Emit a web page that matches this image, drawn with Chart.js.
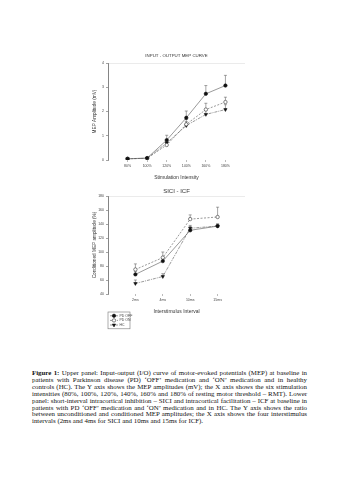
<!DOCTYPE html>
<html>
<head>
<meta charset="utf-8">
<script src="https://cdn.jsdelivr.net/npm/chart.js@4.4.3/dist/chart.umd.min.js"></script>
<style>
  html, body { margin: 0; padding: 0; background: #fff; width: 339px; height: 480px; overflow: hidden; }
  #io-chart { position: absolute; left: 0; top: 0; width: 339px; height: 195px; }
  #sici-chart { position: absolute; left: 0; top: 180px; width: 339px; height: 160px; }
  .caption {
    position: absolute; left: 32px; top: 370px; width: 275px;
    font-family: "Liberation Serif", "Times New Roman", serif;
    font-size: 10px; line-height: 6.9px; color: #111;
  }
  .caption div { text-align: justify; text-align-last: justify; white-space: nowrap; }
  .caption div.last { text-align-last: left; }
</style>
</head>
<body>
<canvas id="io-chart" width="339" height="195"></canvas>
<canvas id="sici-chart" width="339" height="160"></canvas>
<div class="caption" id="caption">
  <div><span><b>Figure 1:</b> Upper panel: Input-output (I/O) curve of motor-evoked potentials (MEP) at baseline in</span></div>
  <div><span>patients with Parkinson disease (PD) ‘OFF’ medication and ‘ON’ medication and in healthy</span></div>
  <div><span>controls (HC). The Y axis shows the MEP amplitudes (mV); the X axis shows the six stimulation</span></div>
  <div><span>intensities (80%, 100%, 120%, 140%, 160% and 180% of resting motor threshold – RMT). Lower</span></div>
  <div><span>panel: short-interval intracortical inhibition – SICI and intracortical facilitation – ICF at baseline in</span></div>
  <div><span>patients with PD ‘OFF’ medication and ‘ON’ medication and in HC. The Y axis shows the ratio</span></div>
  <div><span>between unconditioned and conditioned MEP amplitudes; the X axis shows the four interstimulus</span></div>
  <div class="last"><span>intervals (2ms and 4ms for SICI and 10ms and 15ms for ICF).</span></div>
</div>
<script>
// Input-output curve (mV)
const ioLabels = ["80%", "100%", "120%", "140%", "160%", "180%"];
const ioOff = [0.05, 0.08, 0.82, 1.74, 2.73, 3.07];
const ioOffErr = [0.02, 0.02, 0.2, 0.28, 0.34, 0.42];
const ioOn = [0.05, 0.07, 0.62, 1.47, 2.08, 2.39];
const ioOnErr = [0.02, 0.02, 0.14, 0.2, 0.26, 0.2];
const ioHc = [0.05, 0.07, 0.7, 1.42, 1.88, 2.08];
const ioHcErr = [0.02, 0.02, 0.12, 0.16, 0.18, 0.2];

// SICI / ICF (% of unconditioned MEP)
const isiLabels = ["2ms", "4ms", "10ms", "15ms"];
const siciOff = [68, 87, 131, 137];
const siciOffErr = [4, 5, 5, 3];
const siciOn = [75, 92, 147, 150];
const siciOnErr = [8, 8, 6, 14];
const siciHc = [55, 65, 134, 137];
const siciHcErr = [5, 4, 4, 3];

const groupNames = ["PD OFF", "PD ON", "HC"];

const FONT = '"Liberation Sans", Arial, sans-serif';
Chart.defaults.font.family = FONT;
Chart.defaults.color = "#444";

// size the caption so its widest line just fills the block
(function fitCaption() {
  const box = document.getElementById("caption");
  const spans = box.querySelectorAll("span");
  let widest = 0;
  spans.forEach((s) => { widest = Math.max(widest, s.getBoundingClientRect().width); });
  if (widest > 0) box.style.fontSize = `${(10 * 273) / widest}px`;
})();

function toPoints(values) {
  return values.map((v, i) => ({ x: i + 1, y: v }));
}

function buildDatasets(off, offErr, on, onErr, hc, hcErr) {
  return [
    {
      label: groupNames[0], data: toPoints(off), errors: offErr,
      borderColor: "#555", borderWidth: 0.6, borderDash: [],
      pointStyle: "circle", pointRadius: 1.7, pointBorderWidth: 0.6,
      pointBackgroundColor: "#111", pointBorderColor: "#111",
    },
    {
      label: groupNames[1], data: toPoints(on), errors: onErr,
      borderColor: "#555", borderWidth: 0.6, borderDash: [2, 1.5],
      pointStyle: "circle", pointRadius: 1.7, pointBorderWidth: 0.6,
      pointBackgroundColor: "#fff", pointBorderColor: "#333",
    },
    {
      label: groupNames[2], data: toPoints(hc), errors: hcErr,
      borderColor: "#555", borderWidth: 0.6, borderDash: [3, 1, 1, 1],
      pointStyle: "triangle", pointRotation: 180, pointRadius: 1.9, pointBorderWidth: 0.6,
      pointBackgroundColor: "#111", pointBorderColor: "#111",
    },
  ];
}

// upper error whiskers with a small cap
const errorBars = {
  id: "errorBars",
  beforeDatasetsDraw(chart) {
    const { ctx, scales: { x, y } } = chart;
    ctx.save();
    ctx.strokeStyle = "#666";
    ctx.lineWidth = 0.6;
    chart.data.datasets.forEach((ds) => {
      if (!ds.errors) return;
      ds.data.forEach((pt, i) => {
        const px = x.getPixelForValue(pt.x);
        const y0 = y.getPixelForValue(pt.y);
        const y1 = y.getPixelForValue(pt.y + ds.errors[i]);
        ctx.beginPath();
        ctx.moveTo(px, y0);
        ctx.lineTo(px, y1);
        ctx.moveTo(px - 1.5, y1);
        ctx.lineTo(px + 1.5, y1);
        ctx.stroke();
      });
    });
    ctx.restore();
  },
};

// title centred over the plot area
const panelTitle = {
  id: "panelTitle",
  afterDraw(chart, args, opts) {
    if (!opts.text) return;
    const { ctx, chartArea } = chart;
    ctx.save();
    ctx.font = `${opts.size}px ${FONT}`;
    ctx.fillStyle = "#333";
    ctx.textAlign = "center";
    ctx.textBaseline = "middle";
    ctx.fillText(opts.text, (chartArea.left + chartArea.right) / 2, chartArea.top - opts.gap);
    ctx.restore();
  },
};

// stacked legend in a thin box below the axis
const boxedLegend = {
  id: "boxedLegend",
  afterDraw(chart, args, opts) {
    if (!opts.show) return;
    const { ctx, chartArea } = chart;
    const sets = chart.data.datasets;
    const left = chartArea.left + opts.dx;
    const top = chartArea.bottom + opts.dy;
    const rowH = opts.rowHeight;
    ctx.save();
    ctx.strokeStyle = "#777";
    ctx.lineWidth = 0.6;
    ctx.strokeRect(left, top, opts.width, rowH * sets.length + 3);
    sets.forEach((ds, i) => {
      const y = top + 1.5 + rowH * (i + 0.5);
      ctx.strokeStyle = ds.borderColor;
      ctx.lineWidth = ds.borderWidth;
      ctx.setLineDash(ds.borderDash || []);
      ctx.beginPath();
      ctx.moveTo(left + 2, y);
      ctx.lineTo(left + 10, y);
      ctx.stroke();
      ctx.setLineDash([]);
      ctx.fillStyle = ds.pointBackgroundColor;
      ctx.strokeStyle = ds.pointBorderColor;
      ctx.lineWidth = ds.pointBorderWidth;
      Chart.helpers.drawPoint(ctx, {
        pointStyle: ds.pointStyle,
        rotation: ds.pointRotation || 0,
        radius: ds.pointRadius,
        borderWidth: ds.pointBorderWidth,
      }, left + 6, y);
      ctx.fillStyle = "#444";
      ctx.font = `3.5px ${FONT}`;
      ctx.textBaseline = "middle";
      ctx.fillText(ds.label, left + 11.5, y);
    });
    ctx.restore();
  },
};

function buildOptions({ labels, xMax, yMin, yMax, yStep, xTitle, yTitle, title, titleSize, titleGap, padding, legend }) {
  return {
    responsive: false,
    animation: false,
    devicePixelRatio: 1,
    layout: { padding },
    plugins: {
      legend: { display: false },
      tooltip: { enabled: false },
      panelTitle: { text: title, size: titleSize, gap: titleGap },
      boxedLegend: legend,
    },
    scales: {
      x: {
        type: "linear",
        min: 0,
        max: xMax,
        afterBuildTicks(axis) {
          axis.ticks = labels.map((_, i) => ({ value: i + 1 }));
        },
        afterFit(axis) { axis.height = 21; },
        ticks: {
          font: { size: 3.5 },
          padding: 2,
          maxRotation: 0,
          autoSkip: false,
          callback: (v) => labels[v - 1],
        },
        grid: { drawOnChartArea: false, tickLength: 2, tickColor: "#bbb" },
        border: { display: false },
        title: { display: true, text: xTitle, font: { size: 5 }, padding: 0, color: "#333" },
      },
      y: {
        min: yMin,
        max: yMax,
        afterFit(axis) { axis.width = 16; },
        ticks: { stepSize: yStep, font: { size: 3.5 }, padding: 2 },
        grid: {
          color: (c) => (c.tick && c.tick.value === yMax ? "#ddd" : "transparent"),
          tickColor: "#666",
          tickLength: 2,
          lineWidth: 0.6,
        },
        border: { display: true, color: "#666", width: 0.8 },
        title: { display: true, text: yTitle, font: { size: 4.7 }, padding: 0, color: "#333" },
      },
    },
  };
}

new Chart(document.getElementById("io-chart"), {
  type: "line",
  data: { datasets: buildDatasets(ioOff, ioOffErr, ioOn, ioOnErr, ioHc, ioHcErr) },
  options: buildOptions({
    labels: ioLabels, xMax: 7, yMin: 0, yMax: 4, yStep: 1,
    xTitle: "Stimulation Intensity", yTitle: "MEP Amplitude (mV)",
    title: "INPUT - OUTPUT MEP CURVE", titleSize: 4.4, titleGap: 7,
    padding: { left: 92, right: 94, top: 63, bottom: 14 },
    legend: { show: false },
  }),
  plugins: [errorBars, panelTitle, boxedLegend],
});

new Chart(document.getElementById("sici-chart"), {
  type: "line",
  data: { datasets: buildDatasets(siciOff, siciOffErr, siciOn, siciOnErr, siciHc, siciHcErr) },
  options: buildOptions({
    labels: isiLabels, xMax: 5, yMin: 40, yMax: 180, yStep: 20,
    xTitle: "Interstimulus Interval", yTitle: "Conditioned MEP amplitude (%)",
    title: "SICI - ICF", titleSize: 6, titleGap: 5,
    padding: { left: 92, right: 94, top: 16, bottom: 25 },
    legend: { show: true, dx: 0, dy: 18, width: 22, rowHeight: 4.6 },
  }),
  plugins: [errorBars, panelTitle, boxedLegend],
});
</script>
</body>
</html>
